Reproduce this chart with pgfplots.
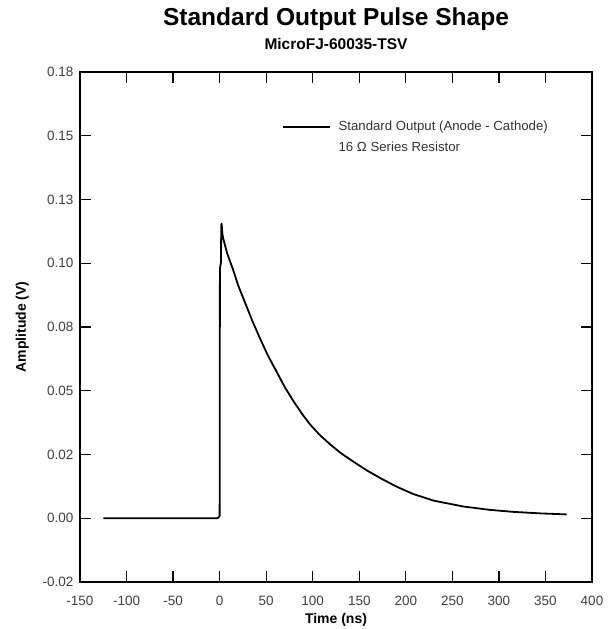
\documentclass[border=0pt]{standalone}
\usepackage{pgfplots}
\pgfplotsset{compat=1.18}
\usepackage{fontspec}
\setmainfont{Liberation Sans}

\pgfplotstableread{
x y
-125 0
-100 0
-75 0
-50 0
-25 0
-3 0
-1 0.0003
0 0.001
0.3 0.098
1.5 0.1005
1.7 0.1150
2.2 0.1155
2.8 0.1118
4 0.1095
8 0.104
14.7 0.0972
20 0.0912
25.5 0.0862
35 0.0775
43.4 0.0705
52 0.0637
61.3 0.0574
70 0.0514
79.2 0.0460
88 0.0412
97.1 0.0368
108 0.0325
118.6 0.0290
130 0.0256
143.6 0.0222
158 0.0188
172.3 0.0158
190 0.0124
208 0.0095
230 0.0069
261.8 0.0046
290 0.0033
315.5 0.0025
345 0.0019
372.8 0.0015
}\pulse

\begin{document}
\begin{tikzpicture}
\begin{axis}[
    scale only axis,
    width=512pt, height=510pt,
    xmin=-150, xmax=400,
    ymin=-0.025, ymax=0.175,
    xtick={-150,-100,...,400},
    ytick={-0.025,0,0.025,0.05,0.075,0.1,0.125,0.15,0.175},
    yticklabels={-0.02,0.00,0.02,0.05,0.08,0.10,0.13,0.15,0.18},
    /pgf/number format/assume math mode=true,
    tick label style={font=\fontsize{13.5}{15}\selectfont, text=black!75},
    xticklabel style={yshift=-11pt},
    yticklabel style={xshift=-3pt},
    tick align=inside,
    major tick length=11pt,
    tick style={line width=1.2pt, black},
    axis line style={line width=1.4pt},
    xlabel={Time (ns)},
    ylabel={Amplitude (V)},
    label style={font=\bfseries\fontsize{14}{16}\selectfont},
    xlabel style={at={(axis description cs:0.5,-0.0745)}, anchor=center},
    ylabel style={at={(axis description cs:-0.113,0.5)}, anchor=center},
    title={Standard Output Pulse Shape},
    title style={font=\bfseries\fontsize{24.5}{26}\selectfont,
        at={(axis description cs:0.5,1)}, anchor=base, yshift=40pt},
    legend style={draw=none, fill=none, at={(0.388,0.912)}, anchor=north west,
        font=\fontsize{13.2}{15}\selectfont, text=black!80,
        row sep=6pt,
        /tikz/every odd column/.append style={column sep=6pt}},
    legend cell align=left,
    legend image code/.code={\draw[#1] (0pt,0pt) -- (47pt,0pt);},
]
\addplot[black, line width=1.8pt, line join=round] table[x=x, y=y] {\pulse};
\addlegendentry{Standard Output (Anode - Cathode)}
\addlegendimage{empty legend}
\addlegendentry{16 Ω Series Resistor}
\end{axis}
\node[font=\bfseries\fontsize{15.5}{17}\selectfont, anchor=base]
    at ([yshift=22pt]current axis.north) {MicroFJ-60035-TSV};
\pgfresetboundingbox
\useasboundingbox (current axis.south west) ++(-80pt,-47pt)
    rectangle ([xshift=20pt,yshift=72pt]current axis.north east);
\end{tikzpicture}
\end{document}
